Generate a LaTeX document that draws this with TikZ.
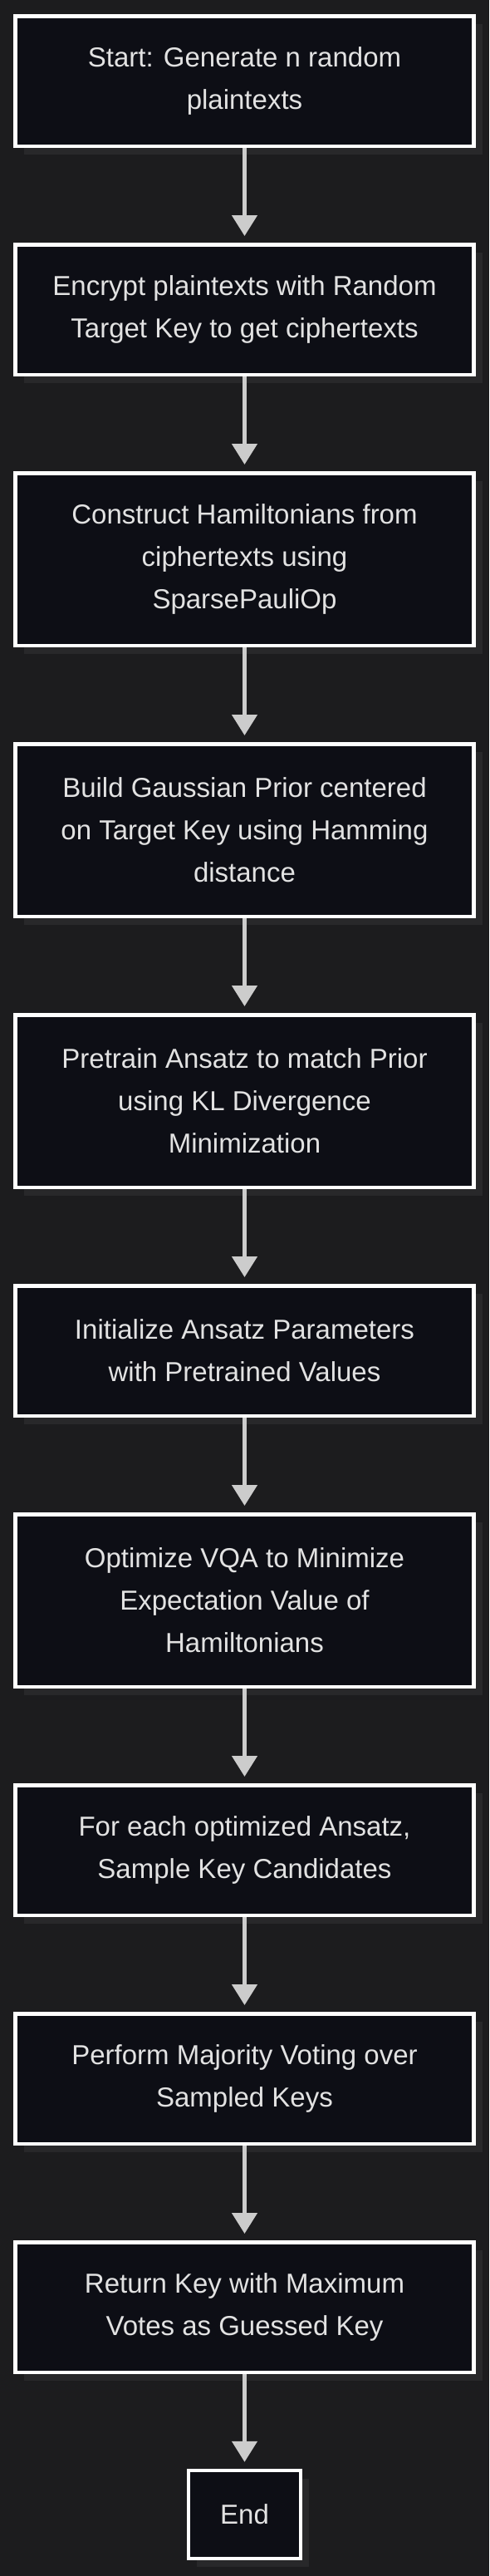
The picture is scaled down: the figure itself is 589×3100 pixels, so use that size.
\documentclass[tikz,border=0pt]{standalone}
\usepackage{fontspec}
\setmainfont{Liberation Sans}
\usetikzlibrary{arrows.meta,shadows}
\definecolor{bgdark}{HTML}{1C1C1E}
\definecolor{boxfill}{HTML}{0D0E15}
\definecolor{shadowgray}{HTML}{28282A}
\definecolor{textgray}{HTML}{E2E2E2}
\definecolor{arrowgray}{HTML}{CCCCCC}
\begin{document}
\begin{tikzpicture}[x=1pt,y=-1pt]
      \tikzstyle{stepbox} = [draw=white,line width=4.5pt,fill=boxfill,text=textgray,align=center,
        minimum width=552pt,minimum height=156.5pt,font=\fontsize{33}{51}\selectfont,
        general shadow={fill=shadowgray,shadow xshift=10pt,shadow yshift=-10pt}];
      \tikzstyle{tallbox} = [stepbox,minimum height=207.5pt];
      \tikzstyle{endbox} = [stepbox,minimum width=135pt,minimum height=106pt];
      \tikzstyle{flow} = [draw=arrowgray,line width=4.5pt,-{Triangle[width=30pt,length=25pt]},shorten >=8pt];
      \fill [bgdark] (0,0) rectangle (589,3100);
      \useasboundingbox (0,0) rectangle (589,3100);
      \node [stepbox] (start) at (294.5,97.5) {Start: Generate n random\\plaintexts};
      \node [stepbox] (encrypt) at (294.5,372.5) {Encrypt plaintexts with Random\\Target Key to get ciphertexts};
      \node [tallbox] (hamilton) at (294.5,673) {Construct Hamiltonians from\\ciphertexts using\\SparsePauliOp};
      \node [tallbox] (prior) at (294.5,999) {Build Gaussian Prior centered\\on Target Key using Hamming\\distance};
      \node [tallbox] (pretrain) at (294.5,1325) {Pretrain Ansatz to match Prior\\using KL Divergence\\Minimization};
      \node [stepbox] (init) at (294.5,1625.5) {Initialize Ansatz Parameters\\with Pretrained Values};
      \node [tallbox] (optimize) at (294.5,1926) {Optimize VQA to Minimize\\Expectation Value of\\Hamiltonians};
      \node [stepbox] (sample) at (294.5,2226.5) {For each optimized Ansatz,\\Sample Key Candidates};
      \node [stepbox] (vote) at (294.5,2501.5) {Perform Majority Voting over\\Sampled Keys};
      \node [stepbox] (guess) at (294.5,2776.5) {Return Key with Maximum\\Votes as Guessed Key};
      \node [endbox] (end) at (294.5,3026) {End};
      \draw [flow] (start) -- (encrypt);
      \draw [flow] (encrypt) -- (hamilton);
      \draw [flow] (hamilton) -- (prior);
      \draw [flow] (prior) -- (pretrain);
      \draw [flow] (pretrain) -- (init);
      \draw [flow] (init) -- (optimize);
      \draw [flow] (optimize) -- (sample);
      \draw [flow] (sample) -- (vote);
      \draw [flow] (vote) -- (guess);
      \draw [flow] (guess) -- (end);
    \end{tikzpicture}
\end{document}
